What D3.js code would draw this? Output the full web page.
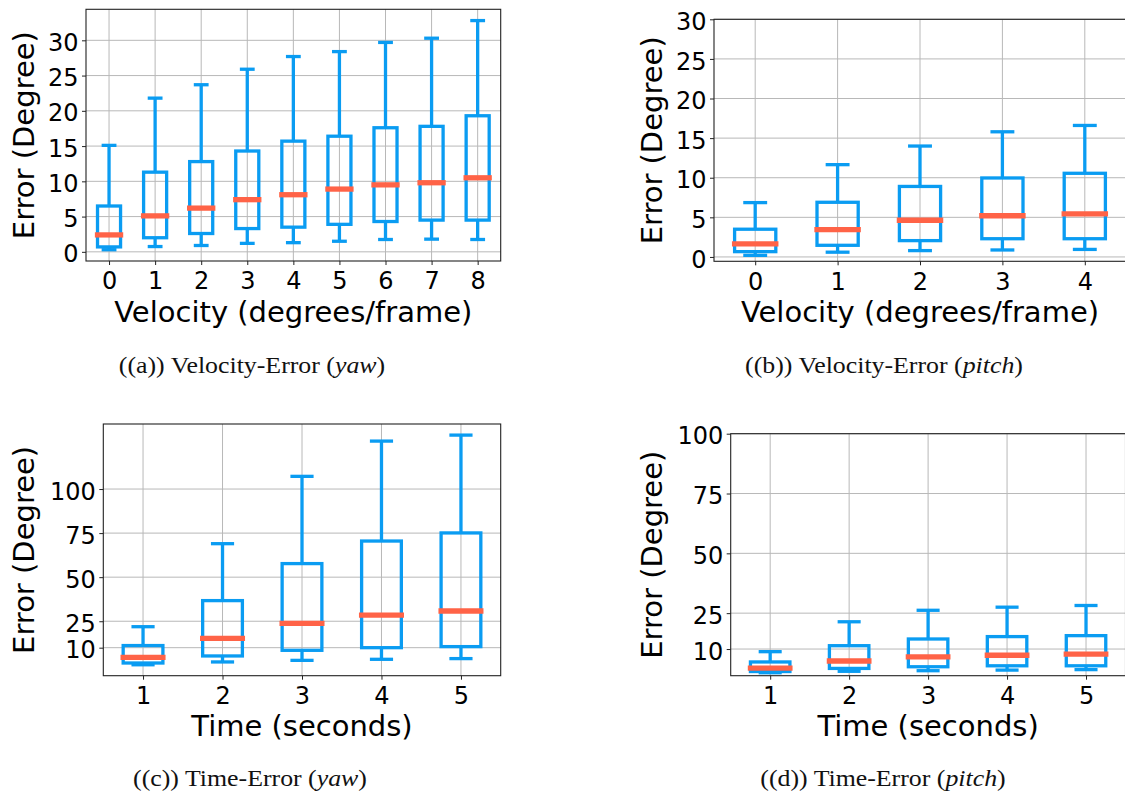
<!DOCTYPE html>
<html>
<head>
<meta charset="utf-8">
<script src="https://cdn.jsdelivr.net/npm/d3@7"></script>
<style>
  html, body { margin: 0; padding: 0; background: #fff; }
  svg { display: block; }
</style>
</head>
<body>
<script>
// ---------------- data ----------------
// (a) Velocity-Error (yaw)
const velA = [0, 1, 2, 3, 4, 5, 6, 7, 8];
const yawVelLo  = [0.3, 0.75, 0.9, 1.2, 1.3, 1.5, 1.75, 1.8, 1.75];
const yawVelQ1  = [0.7, 2.0, 2.6, 3.3, 3.5, 3.9, 4.3, 4.5, 4.5];
const yawVelMed = [2.4, 5.1, 6.2, 7.4, 8.1, 8.9, 9.5, 9.8, 10.5];
const yawVelQ3  = [6.5, 11.3, 12.8, 14.3, 15.7, 16.4, 17.6, 17.8, 19.3];
const yawVelHi  = [15.1, 21.8, 23.7, 25.9, 27.7, 28.4, 29.7, 30.3, 32.8];
const yTicksA = [0, 5, 10, 15, 20, 25, 30];

// (b) Velocity-Error (pitch)
const velB = [0, 1, 2, 3, 4];
const pitchVelLo  = [0.2, 0.6, 0.8, 0.88, 0.95];
const pitchVelQ1  = [0.67, 1.47, 2.06, 2.3, 2.3];
const pitchVelMed = [1.64, 3.45, 4.63, 5.2, 5.43];
const pitchVelQ3  = [3.5, 6.9, 8.9, 9.97, 10.56];
const pitchVelHi  = [6.86, 11.65, 14.0, 15.8, 16.6];
const yTicksB = [0, 5, 10, 15, 20, 25, 30];

// (c) Time-Error (yaw)
const timeC = [1, 2, 3, 4, 5];
const yawTimeLo  = [0.3, 1.9, 2.8, 3.4, 3.8];
const yawTimeQ1  = [1.3, 5.3, 8.5, 10.0, 10.6];
const yawTimeMed = [4.5, 15.3, 23.8, 28.5, 30.8];
const yawTimeQ3  = [11.2, 36.7, 57.7, 70.5, 75.1];
const yawTimeHi  = [21.9, 69.0, 107.2, 127.2, 130.6];
const yTicksC = [10, 25, 50, 75, 100];

// (d) Time-Error (pitch)
const timeD = [1, 2, 3, 4, 5];
const pitchTimeLo  = [0.1, 0.7, 0.95, 1.2, 1.4];
const pitchTimeQ1  = [0.6, 1.9, 2.6, 3.0, 3.0];
const pitchTimeMed = [2.06, 5.0, 6.7, 7.4, 7.9];
const pitchTimeQ3  = [4.6, 11.4, 14.2, 15.2, 15.6];
const pitchTimeHi  = [8.9, 21.4, 26.2, 27.5, 28.2];
const yTicksD = [10, 25, 50, 75, 100];

const xLabelVel = "Velocity (degrees/frame)";
const xLabelTime = "Time (seconds)";
const yLabel = "Error (Degree)";

const captionA = ["((a)) Velocity-Error (", "yaw", ")"];
const captionB = ["((b)) Velocity-Error (", "pitch", ")"];
const captionC = ["((c)) Time-Error (", "yaw", ")"];
const captionD = ["((d)) Time-Error (", "pitch", ")"];

// ---------------- drawing ----------------
const BLUE = "#0a9cf2";
const RED = "#ff6347";
const GRID = "#b8b8b8";
const TICKFONT = "DejaVu Sans";

const svg = d3.select("body").append("svg")
  .attr("width", 1125).attr("height", 797);

function panel(cfg) {
  const { left, right, top, bottom, xDomain, yDomain, cats, lo, q1, med, q3, hi,
          yTicks, xLabel, ylabelX } = cfg;
  const x = d3.scaleLinear().domain(xDomain).range([left, right]);
  const y = d3.scaleLinear().domain(yDomain).range([bottom, top]);
  const g = svg.append("g");

  // grid
  g.append("g").selectAll("line").data(cats).join("line")
    .attr("x1", d => x(d)).attr("x2", d => x(d))
    .attr("y1", top).attr("y2", bottom)
    .attr("stroke", GRID).attr("stroke-width", 1);
  g.append("g").selectAll("line").data(yTicks).join("line")
    .attr("y1", d => y(d)).attr("y2", d => y(d))
    .attr("x1", left).attr("x2", right)
    .attr("stroke", GRID).attr("stroke-width", 1);

  // boxes
  const bw = 0.5, cw = 0.25;
  const boxes = g.append("g").selectAll("g").data(cats.map((c, i) => ({
    c, lo: lo[i], q1: q1[i], med: med[i], q3: q3[i], hi: hi[i]
  }))).join("g");
  boxes.append("line")
    .attr("x1", d => x(d.c)).attr("x2", d => x(d.c))
    .attr("y1", d => y(d.q3)).attr("y2", d => y(d.hi))
    .attr("stroke", BLUE).attr("stroke-width", 3.3);
  boxes.append("line")
    .attr("x1", d => x(d.c)).attr("x2", d => x(d.c))
    .attr("y1", d => y(d.q1)).attr("y2", d => y(d.lo))
    .attr("stroke", BLUE).attr("stroke-width", 3.3);
  boxes.append("line")
    .attr("x1", d => x(d.c - cw / 2)).attr("x2", d => x(d.c + cw / 2))
    .attr("y1", d => y(d.hi)).attr("y2", d => y(d.hi))
    .attr("stroke", BLUE).attr("stroke-width", 3.3).attr("stroke-linecap", "square");
  boxes.append("line")
    .attr("x1", d => x(d.c - cw / 2)).attr("x2", d => x(d.c + cw / 2))
    .attr("y1", d => y(d.lo)).attr("y2", d => y(d.lo))
    .attr("stroke", BLUE).attr("stroke-width", 3.3).attr("stroke-linecap", "square");
  boxes.append("rect")
    .attr("x", d => x(d.c - bw / 2)).attr("width", d => x(d.c + bw / 2) - x(d.c - bw / 2))
    .attr("y", d => y(d.q3)).attr("height", d => y(d.q1) - y(d.q3))
    .attr("fill", "none").attr("stroke", BLUE).attr("stroke-width", 3.3);
  boxes.append("line")
    .attr("x1", d => x(d.c - bw / 2)).attr("x2", d => x(d.c + bw / 2))
    .attr("y1", d => y(d.med)).attr("y2", d => y(d.med))
    .attr("stroke", RED).attr("stroke-width", 5.3).attr("stroke-linecap", "square");

  // spines
  g.append("rect").attr("x", left).attr("y", top)
    .attr("width", right - left).attr("height", bottom - top)
    .attr("fill", "none").attr("stroke", "#222").attr("stroke-width", 1.1);

  // axes
  const ax = g.append("g").attr("transform", `translate(0,${bottom})`)
    .call(d3.axisBottom(x).tickValues(cats).tickFormat(d3.format("d")).tickSize(4).tickPadding(6));
  ax.select(".domain").remove();
  ax.selectAll("text").attr("y", 28.3).attr("dy", 0);
  const ay = g.append("g").attr("transform", `translate(${left},0)`)
    .call(d3.axisLeft(y).tickValues(yTicks).tickFormat(d3.format("d")).tickSize(4).tickPadding(3.5));
  ay.select(".domain").remove();
  ay.selectAll("text").attr("dy", "0.42em");
  [ax, ay].forEach(a => {
    a.attr("font-family", TICKFONT).attr("font-size", 24);
    a.selectAll("line").attr("stroke", "#222").attr("stroke-width", 1);
    a.selectAll("text").attr("fill", "#000");
  });

  // labels
  g.append("text")
    .attr("x", (left + right) / 2).attr("y", bottom + 60.7)
    .attr("text-anchor", "middle")
    .attr("font-family", TICKFONT).attr("font-size", 29)
    .text(xLabel);
  g.append("text")
    .attr("transform", `translate(${ylabelX},${(top + bottom) / 2}) rotate(-90)`)
    .attr("text-anchor", "middle")
    .attr("font-family", TICKFONT).attr("font-size", 29)
    .text(yLabel);
}

function caption(parts, cx, baseline) {
  const t = svg.append("text")
    .attr("transform", `translate(${cx},${baseline}) scale(1.1,1)`)
    .attr("text-anchor", "middle")
    .attr("font-family", "Liberation Serif").attr("font-size", 23.5)
    .attr("fill", "#111");
  t.append("tspan").text(parts[0]);
  t.append("tspan").attr("font-style", "italic").text(parts[1]);
  t.append("tspan").text(parts[2]);
}

panel({ left: 86, right: 500.7, top: 9.3, bottom: 261, xDomain: [-0.5, 8.5], yDomain: [-1.3, 34.4],
  cats: velA, lo: yawVelLo, q1: yawVelQ1, med: yawVelMed, q3: yawVelQ3, hi: yawVelHi,
  yTicks: yTicksA, xLabel: xLabelVel, ylabelX: 33.5 });
panel({ left: 714, right: 1126, top: 19.3, bottom: 261.3, xDomain: [-0.5, 4.5], yDomain: [-0.55, 30],
  cats: velB, lo: pitchVelLo, q1: pitchVelQ1, med: pitchVelMed, q3: pitchVelQ3, hi: pitchVelHi,
  yTicks: yTicksB, xLabel: xLabelVel, ylabelX: 661.5 });
panel({ left: 103.3, right: 500.7, top: 424, bottom: 675.7, xDomain: [0.5, 5.5], yDomain: [-5.9, 136.9],
  cats: timeC, lo: yawTimeLo, q1: yawTimeQ1, med: yawTimeMed, q3: yawTimeQ3, hi: yawTimeHi,
  yTicks: yTicksC, xLabel: xLabelTime, ylabelX: 34 });
panel({ left: 730.7, right: 1125.5, top: 433.7, bottom: 675.7, xDomain: [0.5, 5.5], yDomain: [-1.14, 100],
  cats: timeD, lo: pitchTimeLo, q1: pitchTimeQ1, med: pitchTimeMed, q3: pitchTimeQ3, hi: pitchTimeHi,
  yTicks: yTicksD, xLabel: xLabelTime, ylabelX: 661.5 });

caption(captionA, 252, 373);
caption(captionB, 884, 373);
caption(captionC, 250, 786);
caption(captionD, 883, 786);
</script>
</body>
</html>
